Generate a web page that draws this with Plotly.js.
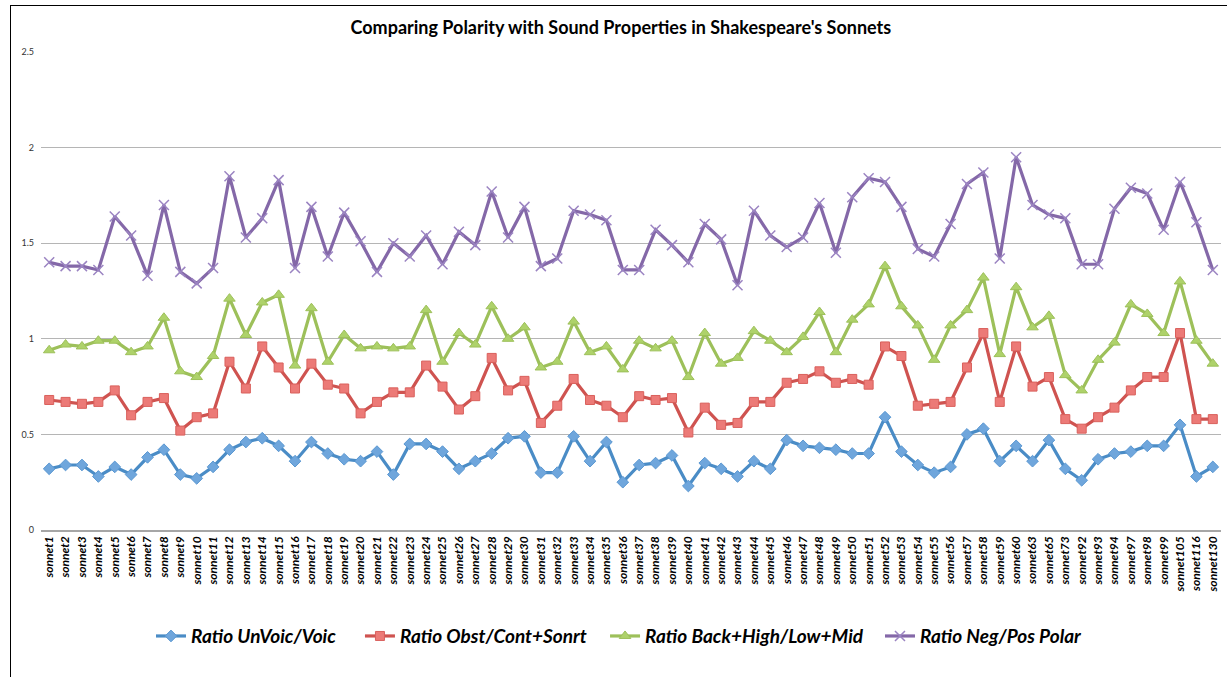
<!DOCTYPE html>
<html>
<head>
<meta charset="utf-8">
<script src="https://cdn.plot.ly/plotly-3.0.1.min.js"></script>
<style>
  html, body { margin: 0; padding: 0; background: #fff; }
  #wrap { position: relative; width: 1227px; height: 677px; overflow: hidden; }
  #chart { position: absolute; left: 0; top: 0; width: 1227px; height: 677px; }
  #frame { position: absolute; left: 10px; top: 5px; width: 1300px; height: 700px;
           border-left: 1.5px solid #000; border-top: 1.5px solid #000; pointer-events: none; }
</style>
</head>
<body>
<div id="wrap">
  <div id="chart"></div>
  <div id="frame"></div>
</div>
<script>
const sonnets = ["sonnet1","sonnet2","sonnet3","sonnet4","sonnet5","sonnet6","sonnet7","sonnet8","sonnet9","sonnet10",
  "sonnet11","sonnet12","sonnet13","sonnet14","sonnet15","sonnet16","sonnet17","sonnet18","sonnet19","sonnet20",
  "sonnet21","sonnet22","sonnet23","sonnet24","sonnet25","sonnet26","sonnet27","sonnet28","sonnet29","sonnet30",
  "sonnet31","sonnet32","sonnet33","sonnet34","sonnet35","sonnet36","sonnet37","sonnet38","sonnet39","sonnet40",
  "sonnet41","sonnet42","sonnet43","sonnet44","sonnet45","sonnet46","sonnet47","sonnet48","sonnet49","sonnet50",
  "sonnet51","sonnet52","sonnet53","sonnet54","sonnet55","sonnet56","sonnet57","sonnet58","sonnet59","sonnet60",
  "sonnet63","sonnet65","sonnet73","sonnet92","sonnet93","sonnet94","sonnet97","sonnet98","sonnet99","sonnet105",
  "sonnet116","sonnet130"];

const unvoicVoic = [0.32,0.34,0.34,0.28,0.33,0.29,0.38,0.42,0.29,0.27,
  0.33,0.42,0.46,0.48,0.44,0.36,0.46,0.40,0.37,0.36,
  0.41,0.29,0.45,0.45,0.41,0.32,0.36,0.40,0.48,0.49,
  0.30,0.30,0.49,0.36,0.46,0.25,0.34,0.35,0.39,0.23,
  0.35,0.32,0.28,0.36,0.32,0.47,0.44,0.43,0.42,0.40,
  0.40,0.59,0.41,0.34,0.30,0.33,0.50,0.53,0.36,0.44,
  0.36,0.47,0.32,0.26,0.37,0.40,0.41,0.44,0.44,0.55,
  0.28,0.33];

const obstContSonrt = [0.68,0.67,0.66,0.67,0.73,0.60,0.67,0.69,0.52,0.59,
  0.61,0.88,0.74,0.96,0.85,0.74,0.87,0.76,0.74,0.61,
  0.67,0.72,0.72,0.86,0.75,0.63,0.70,0.90,0.73,0.78,
  0.56,0.65,0.79,0.68,0.65,0.59,0.70,0.68,0.69,0.51,
  0.64,0.55,0.56,0.67,0.67,0.77,0.79,0.83,0.77,0.79,
  0.76,0.96,0.91,0.65,0.66,0.67,0.85,1.03,0.67,0.96,
  0.75,0.80,0.58,0.53,0.59,0.64,0.73,0.80,0.80,1.03,
  0.58,0.58];

const backHighLowMid = [0.94,0.97,0.96,0.99,0.99,0.93,0.96,1.11,0.83,0.80,
  0.91,1.21,1.02,1.19,1.23,0.86,1.16,0.88,1.02,0.95,
  0.96,0.95,0.96,1.15,0.88,1.03,0.97,1.17,1.00,1.06,
  0.85,0.88,1.09,0.93,0.96,0.84,0.99,0.95,0.99,0.80,
  1.03,0.87,0.90,1.04,0.99,0.93,1.01,1.14,0.93,1.10,
  1.18,1.38,1.17,1.07,0.89,1.07,1.15,1.32,0.92,1.27,
  1.06,1.12,0.81,0.73,0.89,0.98,1.18,1.13,1.03,1.30,
  0.99,0.87];

const negPosPolar = [1.40,1.38,1.38,1.36,1.64,1.54,1.33,1.70,1.35,1.29,
  1.37,1.85,1.53,1.63,1.83,1.37,1.69,1.43,1.66,1.51,
  1.35,1.50,1.43,1.54,1.39,1.56,1.49,1.77,1.53,1.69,
  1.38,1.42,1.67,1.65,1.62,1.36,1.36,1.57,1.49,1.40,
  1.60,1.52,1.28,1.67,1.54,1.48,1.53,1.71,1.45,1.74,
  1.84,1.82,1.69,1.47,1.43,1.60,1.81,1.87,1.42,1.95,
  1.70,1.65,1.63,1.39,1.39,1.68,1.79,1.76,1.57,1.82,
  1.61,1.36];

const seriesNames = ["Ratio UnVoic/Voic", "Ratio Obst/Cont+Sonrt", "Ratio Back+High/Low+Mid", "Ratio Neg/Pos Polar"];

const FONT = 'Lato, "Open Sans", sans-serif';

const traces = [
  { name: seriesNames[0], y: unvoicVoic, legend: 'legend', line: {color: '#4a8cc6', width: 3.2},
    marker: {symbol: 'diamond', size: 9, color: '#6fa6dc', line: {color: '#5b98d2', width: 1}} },
  { name: seriesNames[1], y: obstContSonrt, legend: 'legend2', line: {color: '#cf5350', width: 3.2},
    marker: {symbol: 'square', size: 9, color: '#ec7a77', line: {color: '#d9605c', width: 1}} },
  { name: seriesNames[2], y: backHighLowMid, legend: 'legend3', line: {color: '#9dc05a', width: 3.2},
    marker: {symbol: 'triangle-up', size: 10, color: '#aed26a', line: {color: '#9dc05a', width: 1}} },
  { name: seriesNames[3], y: negPosPolar, legend: 'legend4', line: {color: '#8468a8', width: 3.2},
    marker: {symbol: 'x-thin', size: 10, color: '#9b84c2', line: {color: '#9b84c2', width: 1.5}} }
].map(t => Object.assign({ type: 'scatter', mode: 'lines+markers', x: sonnets }, t));

function legendAt(xp) {
  return {
    orientation: 'h', x: xp, xanchor: 'left', y: -0.222, yanchor: 'middle',
    bgcolor: 'rgba(0,0,0,0)',
    font: {family: FONT, size: 19, color: '#000', weight: 'bold', style: 'italic'},
    itemwidth: 30
  };
}

const layout = {
  width: 1227, height: 677,
  margin: {l: 41, r: 6, t: 52, b: 147},
  paper_bgcolor: '#ffffff', plot_bgcolor: '#ffffff',
  font: {family: FONT, color: '#000'},
  title: {
    text: "Comparing Polarity with Sound Properties in Shakespeare's Sonnets",
    font: {family: FONT, size: 18, color: '#000', weight: 'bold'},
    x: 0.506, xanchor: 'center', xref: 'container',
    y: 1 - 28/677, yanchor: 'middle', yref: 'container'
  },
  xaxis: {
    type: 'category',
    tickangle: -90,
    tickfont: {family: FONT, size: 12, color: '#000', weight: 'bold', style: 'italic'},
    showgrid: false,
    showline: true, linecolor: '#a6a6a6', linewidth: 1.5,
    ticks: '', zeroline: false,
    range: [-0.5, sonnets.length - 0.5],
    automargin: false
  },
  yaxis: {
    range: [0, 2.5], dtick: 0.5, tick0: 0,
    showgrid: true, gridcolor: '#b5b5b5', gridwidth: 1.2,
    zeroline: false, showline: false, ticks: '',
    tickfont: {family: FONT, size: 9, color: '#333'},
    ticklabelstandoff: 6,
    automargin: false
  },
  showlegend: true,
  legend: legendAt(0.0932),
  legend2: legendAt(0.2703),
  legend3: legendAt(0.4780),
  legend4: legendAt(0.7110)
};

Plotly.newPlot('chart', traces, layout, {displayModeBar: false, staticPlot: true});
</script>
</body>
</html>
